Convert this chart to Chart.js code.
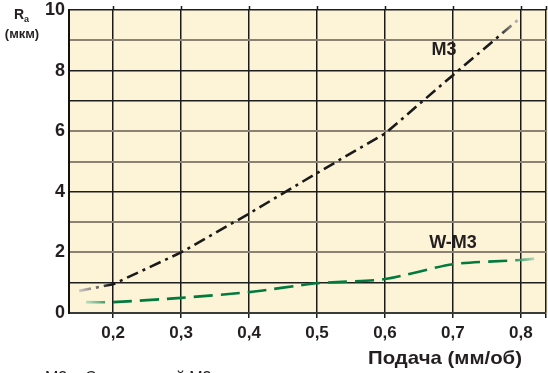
<!DOCTYPE html>
<html>
<head>
<meta charset="utf-8">
<script src="https://cdn.jsdelivr.net/npm/chart.js@4/dist/chart.umd.min.js"></script>
<style>
  html, body { margin: 0; padding: 0; background: #ffffff; }
  #wrap { width: 548px; height: 373px; }
</style>
</head>
<body>
<div id="wrap"><canvas id="raChart" width="548" height="373"></canvas></div>
<script>
// feed (mm/rev) vs roughness Ra (um)
const m3Feed = [0.15, 0.2, 0.3, 0.4, 0.5, 0.6, 0.7, 0.8]
const m3Ra = [0.73, 0.95, 2.0, 3.28, 4.62, 5.92, 7.85, 9.75]
const wm3Feed = [0.16, 0.2, 0.3, 0.4, 0.5, 0.6, 0.7, 0.8, 0.823]
const wm3Ra = [0.36, 0.36, 0.5, 0.69, 0.98, 1.12, 1.61, 1.75, 1.8]
const xTicks = [0.2, 0.3, 0.4, 0.5, 0.6, 0.7, 0.8]
const xTickLabels = ['0,2', '0,3', '0,4', '0,5', '0,6', '0,7', '0,8']
const yGridDark = [1, 4, 7, 8, 10]

const FONT = "'Liberation Sans', Arial, Helvetica, sans-serif"

const toPoints = (xs, ys) => xs.map((x, i) => ({ x: x, y: ys[i] }))

// stroke that fades out at both ends of the line
const fadeStroke = (xs, solid, faint, fadeIn, fadeOut) => (context) => {
  const chart = context.chart
  const { ctx, chartArea, scales } = chart
  if (!chartArea) return solid
  const x0 = scales.x.getPixelForValue(xs[0])
  const x1 = scales.x.getPixelForValue(xs[xs.length - 1])
  const g = ctx.createLinearGradient(x0, 0, x1, 0)
  g.addColorStop(0, faint)
  g.addColorStop(fadeIn, solid)
  g.addColorStop(fadeOut, solid)
  g.addColorStop(1, faint)
  return g
}

const plotBackground = {
  id: 'plotBackground',
  beforeDraw(chart) {
    const { ctx, chartArea } = chart
    ctx.save()
    ctx.fillStyle = '#fdf3d6'
    ctx.fillRect(chartArea.left, chartArea.top, chart.width - chartArea.left, chartArea.bottom - chartArea.top)
    ctx.restore()
  }
}

const annotations = {
  id: 'annotations',
  afterDraw(chart) {
    const { ctx, chartArea, scales } = chart
    ctx.save()
    // vertical grid sticks out a bit above the plot
    ctx.strokeStyle = '#1a1a1a'
    ctx.lineWidth = 1.5
    scales.x.ticks.forEach(t => {
      const px = Math.round(scales.x.getPixelForValue(t.value)) + 0.5
      ctx.beginPath()
      ctx.moveTo(px, chartArea.top - 4)
      ctx.lineTo(px, chartArea.top)
      ctx.stroke()
    })

    ctx.fillStyle = '#231f20'
    ctx.textAlign = 'center'
    ctx.textBaseline = 'middle'
    ctx.font = `bold 18px ${FONT}`
    ctx.fillText('M3', 444, 50)
    ctx.fillText('W-M3', 453, 243)

    // y axis title
    ctx.font = `bold 14px ${FONT}`
    ctx.textAlign = 'left'
    ctx.textBaseline = 'alphabetic'
    ctx.fillText('R', 14, 19)
    ctx.font = `bold 9px ${FONT}`
    ctx.fillText('a', 24, 22)
    ctx.font = `bold 13px ${FONT}`
    ctx.textAlign = 'center'
    ctx.fillText('(мкм)', 22, 38)

    // x axis title, condensed
    const title = 'Подача (мм/об)'
    ctx.font = `bold 19px ${FONT}`
    const w = ctx.measureText(title).width
    ctx.save()
    ctx.translate(445, 364)
    ctx.scale(154 / w, 1)
    ctx.textAlign = 'center'
    ctx.fillText(title, 0, 0)
    ctx.restore()

    // caption under the chart, mostly cut off
    ctx.font = `16px ${FONT}`
    ctx.textAlign = 'left'
    ctx.fillText('М3 – Стандартный М3', 45, 383)
    ctx.restore()
  }
}

new Chart(document.getElementById('raChart'), {
  type: 'line',
  data: {
    datasets: [
      {
        label: 'M3',
        data: toPoints(m3Feed, m3Ra),
        borderColor: fadeStroke(m3Feed, '#1a1a1a', 'rgba(190,190,190,0.8)', 0.07, 0.95),
        borderWidth: 2.6,
        borderDash: [12, 5, 3, 5],
        pointRadius: 0,
        tension: 0,
        fill: false
      },
      {
        label: 'W-M3',
        data: toPoints(wm3Feed, wm3Ra),
        borderColor: fadeStroke(wm3Feed, '#007a3d', 'rgba(160,210,180,0.7)', 0.06, 0.94),
        borderWidth: 2.6,
        borderDash: [19, 8],
        pointRadius: 0,
        tension: 0.25,
        fill: false
      }
    ]
  },
  options: {
    responsive: false,
    animation: false,
    layout: { padding: { top: 10, right: 2, left: 0, bottom: 0 } },
    plugins: {
      legend: { display: false },
      tooltip: { enabled: false }
    },
    scales: {
      x: {
        type: 'linear',
        min: 0.135,
        max: 0.837,
        afterBuildTicks: (scale) => {
          scale.ticks = xTicks.concat([0.837]).map(v => ({ value: v }))
        },
        afterFit: (scale) => {
          scale.height = 60
          scale.paddingLeft = 0
          scale.paddingRight = 0
        },
        ticks: {
          autoSkip: false,
          maxRotation: 0,
          padding: 5,
          color: '#231f20',
          font: { family: FONT, size: 17, weight: 'bold' },
          callback: (value, index) => xTickLabels[index] ?? ''
        },
        grid: {
          color: '#1a1a1a',
          lineWidth: 1.5,
          tickLength: 5
        },
        border: { display: true, color: '#3a3a3a', width: 2 }
      },
      y: {
        min: 0,
        max: 10,
        afterFit: (scale) => {
          scale.width = 69
          scale.paddingTop = 0
          scale.paddingBottom = 0
        },
        ticks: {
          stepSize: 1,
          padding: 4,
          color: '#231f20',
          font: { family: FONT, size: 18, weight: 'bold' },
          callback: (value) => value % 2 === 0 ? value : ''
        },
        grid: {
          drawTicks: false,
          color: (ctx) => yGridDark.includes(ctx.tick.value) ? '#1e1e1e' : '#8a8373',
          lineWidth: (ctx) => yGridDark.includes(ctx.tick.value) ? 1.5 : 2
        },
        border: { display: true, color: '#111111', width: 2 }
      }
    }
  },
  plugins: [plotBackground, annotations]
})
</script>
</body>
</html>
